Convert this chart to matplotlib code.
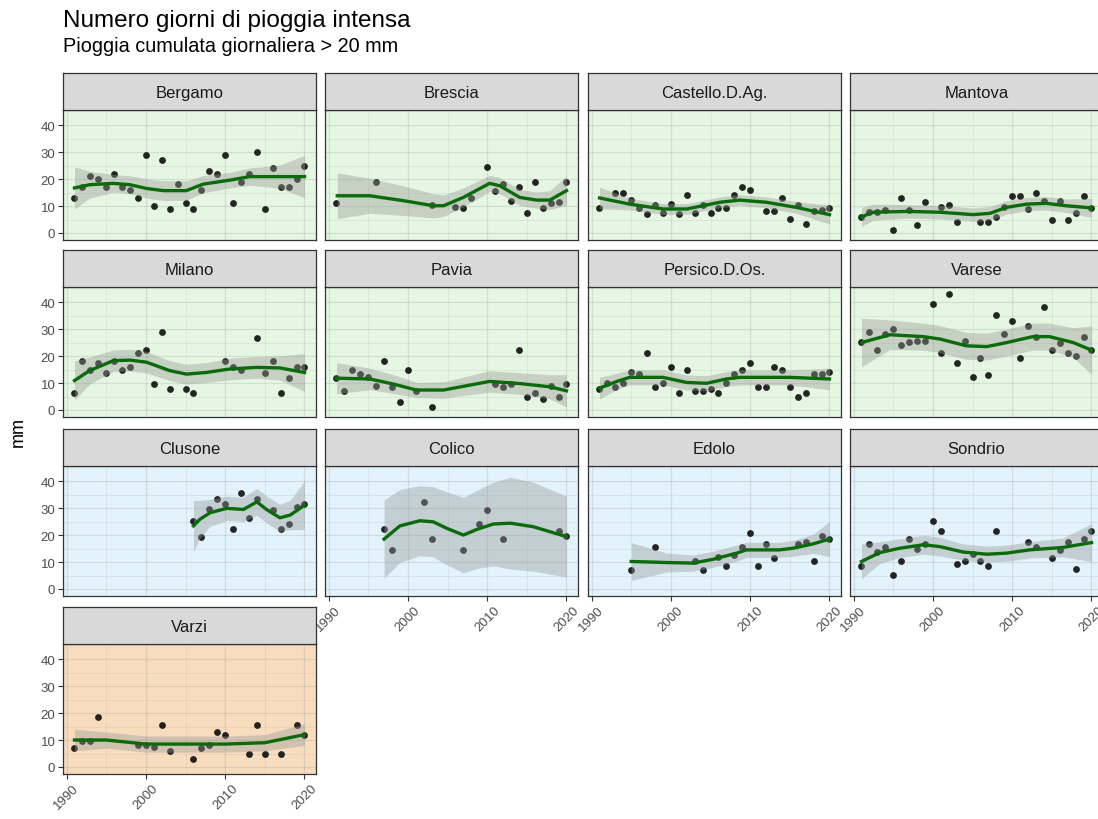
import matplotlib
matplotlib.use("Agg")
import matplotlib.pyplot as plt
import numpy as np

plt.rcParams['font.family'] = ['Liberation Sans', 'DejaVu Sans']

# ---- data: observed yearly counts of days with > 20 mm ----
stations = ['Bergamo', 'Brescia', 'Castello.D.Ag.', 'Mantova',
            'Milano', 'Pavia', 'Persico.D.Os.', 'Varese',
            'Clusone', 'Colico', 'Edolo', 'Sondrio', 'Varzi']
groups = ['plain'] * 8 + ['alpine'] * 4 + ['apennine']

bergamo_yr = list(range(1991, 2021))
bergamo_mm = [13, 17, 21, 20, 17, 22, 17, 16, 13, 29, 10, 27, 9, 18, 11,
              9, 16, 23, 22, 29, 11, 19, 22, 30, 9, 24, 17, 17, 20, 25]
brescia_yr = [1991, 1996, 2003, 2006, 2007, 2008, 2010, 2011, 2012, 2013,
              2014, 2015, 2016, 2017, 2018, 2019, 2020]
brescia_mm = [11, 19, 10.5, 9.5, 9.3, 12.8, 24.3, 15.7, 18.1, 12, 17.2,
              7.3, 19, 9.3, 11, 11.4, 19]
castello_yr = [1991, 1993, 1994, 1995, 1996, 1997, 1998, 1999, 2000, 2001,
               2002, 2003, 2004, 2005, 2006, 2007, 2008, 2009, 2010, 2012,
               2013, 2014, 2015, 2016, 2017, 2018, 2019, 2020]
castello_mm = [9.3, 15, 15, 12.2, 9.1, 7, 10.5, 7.3, 10.7, 7, 14, 7.3, 10.4,
               7.3, 9.3, 9.3, 14, 17, 16, 8, 8, 13, 5.2, 10.4, 3.3, 8, 8.5, 9.3]
mantova_yr = [1991, 1992, 1993, 1994, 1995, 1996, 1997, 1998, 1999, 2001,
              2002, 2003, 2006, 2007, 2008, 2009, 2010, 2011, 2012, 2013,
              2014, 2015, 2016, 2017, 2018, 2019, 2020]
mantova_mm = [6, 7.7, 7.7, 8.5, 1.1, 12.8, 8.5, 3.1, 11.4, 9.5, 10.4, 4.2,
              4.2, 4.2, 6, 9.5, 13.8, 13.8, 8.9, 15, 12, 5, 11.7, 5, 7.3,
              13.8, 9.3]
milano_yr = [1991, 1992, 1993, 1994, 1995, 1996, 1997, 1998, 1999, 2000,
             2001, 2002, 2003, 2005, 2006, 2010, 2011, 2012, 2014, 2015,
             2016, 2017, 2018, 2019, 2020]
milano_mm = [6.2, 18, 14.8, 17.3, 13.8, 18.3, 14.8, 15.8, 21, 22.2, 9.6,
             28.8, 7.7, 7.9, 6.2, 18, 16, 14.8, 26.7, 13.8, 18, 6.2, 11.7,
             16, 16]
pavia_yr = [1991, 1992, 1993, 1994, 1995, 1996, 1997, 1998, 1999, 2000,
            2001, 2003, 2011, 2012, 2013, 2014, 2015, 2016, 2017, 2018,
            2019, 2020]
pavia_mm = [11.7, 7.1, 14.8, 13.3, 12.1, 9, 18, 8.4, 3.1, 14.8, 7, 1, 9.8,
            8.6, 9.8, 22.2, 5, 6.3, 4, 9, 5, 9.8]
persico_yr = list(range(1991, 2021))
persico_mm = [7.8, 9.9, 8.6, 9.9, 14, 13.3, 21.2, 8.6, 9.9, 16, 6.3, 15,
              7.1, 7.1, 7.8, 6.3, 9.9, 13.3, 15, 17.3, 8.6, 8.6, 16, 15, 8.6,
              5, 6.3, 13.3, 13.3, 14]
varese_yr = list(range(1991, 2021))
varese_mm = [25.3, 29, 22.2, 28.1, 30, 24.2, 25.3, 25.7, 25.7, 39.3, 21.2,
             43, 17.3, 25.7, 12.1, 19.1, 13.1, 35.2, 28.1, 33, 19.1, 31, 26.9,
             38.3, 22.2, 24.7, 21.2, 20, 26.9, 22.2]
clusone_yr = [2006, 2007, 2008, 2009, 2010, 2011, 2012, 2013, 2014, 2016,
              2017, 2018, 2019, 2020]
clusone_mm = [25.3, 19.4, 29.5, 33.5, 31.5, 22.1, 35.7, 26.2, 33.5, 29.3,
              22.1, 24.1, 30.3, 31.5]
colico_yr = [1997, 1998, 2002, 2003, 2007, 2009, 2010, 2012, 2019, 2020]
colico_mm = [22.1, 14.5, 32.3, 18.6, 14.5, 24.2, 29.3, 18.6, 21.6, 19.6]
edolo_yr = [1995, 1998, 2003, 2004, 2006, 2007, 2008, 2009, 2010, 2011,
            2012, 2013, 2016, 2017, 2018, 2019, 2020]
edolo_mm = [7.1, 15.4, 10.2, 7.1, 11.8, 8.4, 12.7, 15.5, 20.7, 8.4, 16.6,
            11.4, 16.6, 17.6, 10.2, 19.7, 18.5]
sondrio_yr = [1991, 1992, 1993, 1994, 1995, 1996, 1997, 1998, 1999, 2000,
              2001, 2003, 2004, 2005, 2006, 2007, 2008, 2012, 2013, 2015,
              2016, 2017, 2018, 2019, 2020]
sondrio_mm = [8.4, 16.6, 13.7, 15.7, 5.3, 10.3, 18.6, 14.8, 16.7, 25.2, 21.6,
              9.3, 10.3, 13, 10.3, 8.4, 21.6, 17.6, 15.7, 11.4, 14.5, 17.6,
              7.3, 18.6, 21.6]
varzi_yr = [1991, 1992, 1993, 1994, 1999, 2000, 2001, 2002, 2003, 2006,
            2007, 2008, 2009, 2010, 2013, 2014, 2015, 2017, 2019, 2020]
varzi_mm = [7, 9.5, 9.5, 18.5, 8, 8, 7.5, 15.5, 6, 3, 7, 8, 13, 12, 5, 15.5,
            5, 5, 15.5, 12]

# ---- smoothed trend and half width of its band ----
bergamo_fx = [1991, 1992.9, 1995.9, 1998, 2000.1, 2002.2, 2005.1, 2007.2, 2010.6, 2013.1, 2016.9, 2020]
bergamo_fit = [16.7, 17.9, 18.4, 17.9, 16.5, 15.7, 15.7, 18.1, 19.6, 20.9, 20.9, 20.9]
bergamo_se = [7.8, 5, 3.3, 3.3, 3.5, 3.7, 3.6, 3.2, 2.9, 3.2, 4.3, 7.9]
brescia_fx = [1991.1, 1995.2, 1999.4, 2003.2, 2004.5, 2007, 2010.3, 2011.6, 2014.1, 2016.2, 2017.9, 2020]
brescia_fit = [13.8, 13.8, 12, 10.1, 10.1, 13.2, 18.4, 17.5, 13.2, 12.2, 12.2, 15.7]
brescia_se = [8.5, 6.5, 5.5, 4.5, 4, 3.5, 3, 3, 3, 3, 3.5, 5.5]
castello_fx = [1991, 1994.8, 1999, 2002, 2006.2, 2008.7, 2012, 2015.8, 2020]
castello_fit = [13, 10.7, 8.9, 8.9, 11.4, 12.2, 11.4, 9.5, 6.8]
castello_se = [4, 2.2, 2, 2, 2, 2, 2, 2.2, 3.5]
mantova_fx = [1991, 1992.5, 1996.7, 2000.9, 2005.1, 2007.2, 2009.3, 2011.8, 2014.3, 2016.8, 2020]
mantova_fit = [6, 7.7, 8, 7.7, 6.8, 7.3, 9.5, 10.7, 11, 10.1, 9.3]
mantova_se = [3.5, 3, 2.5, 2.5, 2.5, 2.5, 2.5, 2.5, 2.5, 2.5, 3.5]
milano_fx = [1991, 1992.9, 1995.9, 1998, 2000.1, 2003, 2005.1, 2007.6, 2010.6, 2013.9, 2016.9, 2020]
milano_fit = [10.9, 14.6, 18.3, 18.5, 17.7, 14.6, 13.3, 13.9, 15.2, 15.8, 15.6, 13.9]
milano_se = [7.3, 5, 4, 4, 4, 3.7, 3.7, 3.7, 4, 4, 4.5, 7]
pavia_fx = [1991, 1995.2, 1998.2, 2001.1, 2004.5, 2007.4, 2010.3, 2014.1, 2017.9, 2020]
pavia_fit = [11.8, 11.5, 9.6, 7.4, 7.4, 9, 10.6, 9.8, 8.6, 7.1]
pavia_se = [5.8, 4, 3.5, 2.8, 3, 3.5, 4, 4, 4.5, 6]
persico_fx = [1991, 1993.2, 1994.8, 1999, 2002, 2004.5, 2007, 2008.7, 2015, 2020]
persico_fit = [8.1, 10.6, 12.1, 12.1, 10.2, 9.9, 11.5, 12.1, 12.1, 11.5]
persico_se = [4, 3, 2.8, 2.8, 2.8, 2.8, 2.8, 2.8, 2.8, 4]
varese_fx = [1991, 1994.6, 1998.8, 2000.9, 2004.2, 2006.8, 2009.3, 2012.6, 2014.7, 2017.7, 2020]
varese_fit = [25, 27.9, 27.2, 26.3, 23.8, 23.5, 25, 27.2, 27.2, 25, 22.2]
varese_se = [9, 5.5, 5, 5, 5, 5, 5, 5, 5, 5.5, 9]
clusone_fx = [2006, 2006.8, 2008.1, 2010.2, 2012.3, 2014, 2015.2, 2016.9, 2018.2, 2020]
clusone_fit = [23.4, 25.8, 28.3, 29.9, 29.5, 32.3, 29.5, 26.4, 27.4, 31.1]
clusone_se = [9.5, 7, 5, 4.5, 4.5, 5, 5, 5, 5.5, 9]
colico_fx = [1997, 1999, 2001.5, 2003.2, 2004.9, 2007, 2008.7, 2010.8, 2012.9, 2015.8, 2020]
colico_fit = [18.5, 23.4, 25.3, 24.9, 22.5, 20, 22.1, 24.1, 24.4, 23.1, 19.4]
colico_se = [14.5, 13.5, 13, 13, 13.5, 14, 14.5, 15.5, 17, 16.5, 15]
edolo_fx = [1995, 1999.5, 2002.8, 2005.3, 2008.3, 2009.5, 2013.7, 2015.4, 2017.9, 2020]
edolo_fit = [10.2, 9.8, 9.6, 11, 13.3, 14.5, 14.5, 15.1, 16.7, 18.5]
edolo_se = [7, 3.5, 3, 3, 3, 2.8, 2.8, 3, 3.5, 6.5]
sondrio_fx = [1991, 1993.3, 1995.8, 1998.8, 2000.9, 2003.8, 2006.8, 2009.3, 2012.2, 2016.4, 2020]
sondrio_fit = [10.2, 13.5, 15.1, 16.4, 15.7, 13.7, 12.9, 13.3, 14.5, 15.4, 17.2]
sondrio_se = [6.5, 4, 3.5, 3.5, 3.5, 3, 3, 3, 3, 3.5, 7]
varzi_fx = [1991, 1995, 2000, 2005, 2010, 2015, 2020]
varzi_fit = [10, 10, 8.5, 8.5, 8.5, 9, 12]
varzi_se = [4, 3, 3, 3, 3, 3, 4]

points = [(bergamo_yr, bergamo_mm), (brescia_yr, brescia_mm), (castello_yr, castello_mm),
          (mantova_yr, mantova_mm), (milano_yr, milano_mm), (pavia_yr, pavia_mm),
          (persico_yr, persico_mm), (varese_yr, varese_mm), (clusone_yr, clusone_mm),
          (colico_yr, colico_mm), (edolo_yr, edolo_mm), (sondrio_yr, sondrio_mm),
          (varzi_yr, varzi_mm)]
fits = [(bergamo_fx, bergamo_fit, bergamo_se), (brescia_fx, brescia_fit, brescia_se),
        (castello_fx, castello_fit, castello_se), (mantova_fx, mantova_fit, mantova_se),
        (milano_fx, milano_fit, milano_se), (pavia_fx, pavia_fit, pavia_se),
        (persico_fx, persico_fit, persico_se), (varese_fx, varese_fit, varese_se),
        (clusone_fx, clusone_fit, clusone_se), (colico_fx, colico_fit, colico_se),
        (edolo_fx, edolo_fit, edolo_se), (sondrio_fx, sondrio_fit, sondrio_se),
        (varzi_fx, varzi_fit, varzi_se)]

bg = {'plain': '#E5F7E2', 'alpine': '#E2F3FB', 'apennine': '#F7DDBE'}

# ---- layout (pixels) ----
W, H = 1098, 820
fig = plt.figure(figsize=(W / 100, H / 100), dpi=100)
col_left = [63, 325, 588, 850]
row_top = [111, 288, 467, 645]
pw, ph, sh = 253, 130, 37
border = '#333333'

def px_axes(left, top, w, h):
    return fig.add_axes([left / W, 1 - (top + h) / H, w / W, h / H])

for i, name in enumerate(stations):
    r, c = divmod(i, 4)
    ax = px_axes(col_left[c], row_top[r], pw, ph)
    ax.set_facecolor(bg[groups[i]])
    ax.set_xlim(1989.55, 2021.45)
    ax.set_ylim(-2.6, 45.6)
    ax.set_xticks([1990, 2000, 2010, 2020])
    ax.set_xticks([1995, 2005, 2015], minor=True)
    ax.set_yticks([0, 10, 20, 30, 40])
    ax.set_yticks([5, 15, 25, 35], minor=True)
    ax.grid(which='major', color='#8a8a8a', alpha=0.22, lw=0.9)
    ax.grid(which='minor', color='#8a8a8a', alpha=0.18, lw=0.5)
    ax.set_axisbelow(True)
    for s in ax.spines.values():
        s.set_color(border)
        s.set_linewidth(0.9)

    yr, mm = points[i]
    ax.scatter(yr, mm, s=24, color='black', alpha=0.85, lw=0, zorder=2)
    fx, fit, se = fits[i]
    fit = np.array(fit)
    se = np.array(se)
    ax.fill_between(fx, fit - se, fit + se, color='#999999', alpha=0.4, lw=0, zorder=3)
    ax.plot(fx, fit, color='#0B6B0B', lw=2.4, zorder=4)

    ax.tick_params(which='minor', length=0)
    ax.tick_params(which='major', length=3.5, width=0.8, color=border,
                   labelsize=9.5, labelcolor='#4D4D4D', pad=2)
    if c == 0:
        ax.set_yticklabels(['0', '10', '20', '30', '40'])
    else:
        ax.tick_params(axis='y', length=0, labelleft=False)
    bottom = (r == 3) or (r == 2 and c > 0)
    if bottom:
        ax.set_xticklabels(['1990', '2000', '2010', '2020'], rotation=45, ha='center')
    else:
        ax.tick_params(axis='x', length=0, labelbottom=False)

    st = px_axes(col_left[c], row_top[r] - sh, pw, sh)
    st.set_facecolor('#D9D9D9')
    st.set_xticks([])
    st.set_yticks([])
    for s in st.spines.values():
        s.set_color(border)
        s.set_linewidth(0.9)
    st.text(0.5, 0.47, name, ha='center', va='center', fontsize=12,
            color='#1A1A1A', transform=st.transAxes)

fig.text(63 / W, 1 - 27 / H, 'Numero giorni di pioggia intensa', fontsize=17.5,
         va='baseline', ha='left')
fig.text(63 / W, 1 - 52 / H, 'Pioggia cumulata giornaliera > 20 mm', fontsize=14.3,
         va='baseline', ha='left')
fig.text(18 / W, 1 - 432 / H, 'mm', rotation=90, fontsize=13, va='center', ha='center')

fig.savefig('out.png', dpi=100)
